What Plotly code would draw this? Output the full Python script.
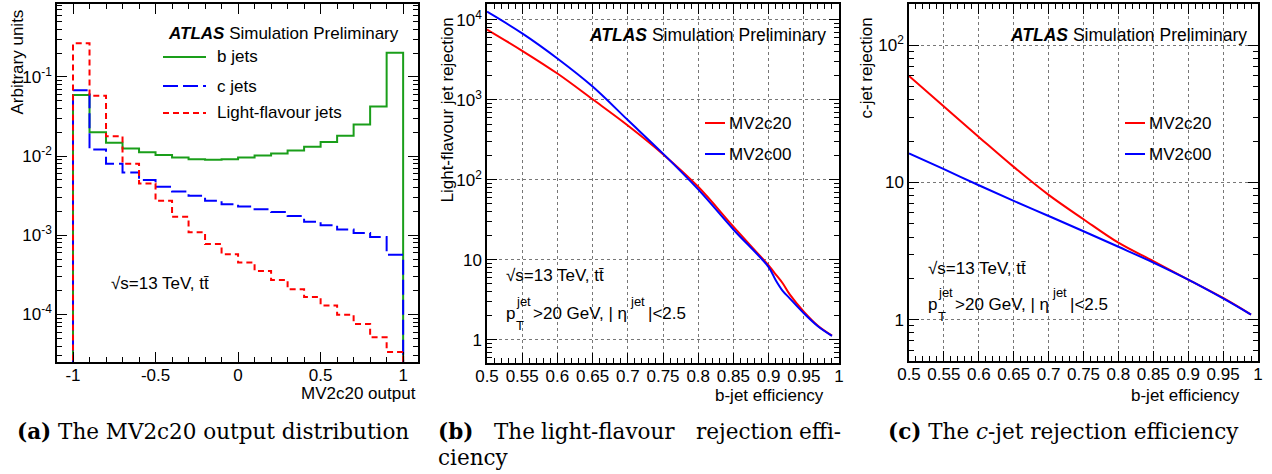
import math
import plotly.graph_objects as go

W, H = 1272, 474

# ---------------- data ----------------
# (a) MV2c20 output distribution, 20 bins of width 0.1 on [-1, 1]
bin_edges = [round(-1.0 + 0.1 * i, 1) for i in range(21)]
b_jets = [0.059, 0.020, 0.0147, 0.0125, 0.0112, 0.0103, 0.0096, 0.0091, 0.0090, 0.0091,
          0.0096, 0.0102, 0.0108, 0.0118, 0.0131, 0.0150, 0.0181, 0.0251, 0.0422, 0.201]
c_jets = [0.068, 0.0121, 0.0080, 0.0062, 0.0050, 0.0041, 0.00358, 0.00316, 0.00272, 0.00246,
          0.00230, 0.00213, 0.00197, 0.00175, 0.00148, 0.00134, 0.00118, 0.00107, 0.00095, 0.000567]
light_jets = [0.266, 0.0579, 0.0178, 0.0080, 0.00451, 0.00272, 0.00171, 0.00109, 0.000775, 0.000578,
              0.000452, 0.000354, 0.000272, 0.000208, 0.000166, 0.00013, 0.0000991, 0.000076,
              0.0000514, 0.0000337]

# (b) light-flavour jet rejection vs b-jet efficiency
eff_b = [0.50, 0.55, 0.60, 0.65, 0.70, 0.75, 0.80, 0.85, 0.90, 0.91, 0.92, 0.93, 0.95, 0.97, 0.99]
light_rej_mv2c20 = [7600, 4120, 2140, 1020, 480, 210, 82, 26, 8.5, 6.6, 5.1, 3.7, 2.25, 1.5, 1.13]
light_rej_mv2c00 = [12700, 6800, 3300, 1470, 560, 213, 76, 24, 8.1, 5.6, 4.1, 3.3, 2.15, 1.48, 1.12]

# (c) c-jet rejection vs b-jet efficiency
eff_c = [0.50, 0.55, 0.60, 0.65, 0.70, 0.75, 0.80, 0.85, 0.90, 0.95, 0.99]
c_rej_mv2c20 = [59.7, 35.8, 21.5, 13.0, 8.13, 5.40, 3.64, 2.67, 1.96, 1.44, 1.09]
c_rej_mv2c00 = [16.3, 12.5, 9.55, 7.35, 5.70, 4.41, 3.40, 2.61, 1.96, 1.43, 1.09]

eff_ticks = [round(0.5 + 0.05 * i, 2) for i in range(11)]
eff_ticktext = ["0.5", "0.55", "0.6", "0.65", "0.7", "0.75", "0.8", "0.85", "0.9", "0.95", "1"]
mv_ticks = [-1, -0.5, 0, 0.5, 1]
mv_ticktext = ["-1", "-0.5", "0", "0.5", "1"]

# ---------------- styling ----------------
GREEN = "#1a9e1a"
BLUE = "#0000ff"
RED = "#ff0000"
SANS = "Liberation Sans, Arial, Helvetica, sans-serif"
SERIF = "DejaVu Serif, serif"
FS = 17
HIST_FLOOR = 1e-9  # histogram outline drops to zero (below the log range)
BLUE_DASH = "15px,5px"
RED_DASH = "6px,4px"


def px(x):
    return x / W


def py(y):
    return 1 - y / H


def step_outline(edges, vals):
    xs = [edges[0]] + list(edges[:-1]) + [edges[-1], edges[-1]]
    ys = [HIST_FLOOR] + list(vals) + [vals[-1], HIST_FLOOR]
    return xs, ys


def log_minor(lo_exp, hi_exp):
    out = []
    for e in range(lo_exp, hi_exp + 1):
        for k in range(2, 10):
            out.append(k * 10.0 ** e)
    return out


fig = go.Figure()

# panel (a): step outlines of the three flavours
for vals, color, dash, name in [(b_jets, GREEN, "solid", "b jets"),
                                (c_jets, BLUE, BLUE_DASH, "c jets"),
                                (light_jets, RED, RED_DASH, "Light-flavour jets")]:
    xs, ys = step_outline(bin_edges, vals)
    fig.add_trace(go.Scatter(x=xs, y=ys, mode="lines", line=dict(color=color, width=2, dash=dash, shape="hv"),
                             name=name, xaxis="x", yaxis="y", showlegend=False))

curve = dict(width=2, shape="spline", smoothing=1.0)
# panel (b)
fig.add_trace(go.Scatter(x=eff_b, y=light_rej_mv2c20, mode="lines", line=dict(color=RED, **curve),
                         xaxis="x2", yaxis="y2", showlegend=False, name="MV2c20"))
fig.add_trace(go.Scatter(x=eff_b, y=light_rej_mv2c00, mode="lines", line=dict(color=BLUE, **curve),
                         xaxis="x2", yaxis="y2", showlegend=False, name="MV2c00"))

# panel (c)
fig.add_trace(go.Scatter(x=eff_c, y=c_rej_mv2c20, mode="lines", line=dict(color=RED, **curve),
                         xaxis="x3", yaxis="y3", showlegend=False, name="MV2c20"))
fig.add_trace(go.Scatter(x=eff_c, y=c_rej_mv2c00, mode="lines", line=dict(color=BLUE, **curve),
                         xaxis="x3", yaxis="y3", showlegend=False, name="MV2c00"))

tickfont = dict(family=SANS, size=FS, color="black")
common = dict(showline=True, linecolor="black", linewidth=1.5, mirror="ticks", ticks="inside",
              tickcolor="black", tickwidth=1, ticklen=10, tickfont=tickfont, zeroline=False,
              tickmode="array", automargin=False)
minor_style = dict(ticks="inside", ticklen=5, tickcolor="black", tickwidth=1)
grid = dict(showgrid=True, gridcolor="#777777", griddash="dot", gridwidth=1)

layout = dict(
    template="none",
    width=W, height=H, margin=dict(l=0, r=0, t=0, b=0, autoexpand=False),
    paper_bgcolor="white", plot_bgcolor="white", showlegend=False,
    xaxis=dict(domain=[px(57), px(418)], range=[-1.097, 1.09], tickvals=mv_ticks, ticktext=mv_ticktext,
               minor=dict(tickvals=[round(-1.0 + 0.1 * i, 1) for i in range(21)], **minor_style),
               showgrid=False, anchor="y", ticklabelstandoff=-3, **common),
    yaxis=dict(domain=[py(362), py(4)], type="log", range=[-4.6, -0.08],
               tickvals=[1e-4, 1e-3, 1e-2, 1e-1],
               ticktext=["10<sup>-4</sup>", "10<sup>-3</sup>", "10<sup>-2</sup>", "10<sup>-1</sup>"],
               minor=dict(tickvals=log_minor(-5, -1), **minor_style),
               showgrid=False, anchor="x", **common),
    xaxis2=dict(domain=[px(487), px(839)], range=[0.5, 1.0], tickvals=eff_ticks, ticktext=eff_ticktext,
                minor=dict(tickvals=[round(0.5 + 0.01 * i, 2) for i in range(51)], **minor_style),
                anchor="y2", ticklabelstandoff=-3, **grid, **common),
    yaxis2=dict(domain=[py(363), py(4)], type="log", range=[-0.29, 4.2],
                tickvals=[1, 10, 100, 1000, 10000],
                ticktext=["1", "10", "10<sup>2</sup>", "10<sup>3</sup>", "10<sup>4</sup>"],
                minor=dict(tickvals=log_minor(-1, 4), **minor_style),
                anchor="x2", **grid, **common),
    xaxis3=dict(domain=[px(909), px(1258)], range=[0.5, 1.0], tickvals=eff_ticks, ticktext=eff_ticktext,
                minor=dict(tickvals=[round(0.5 + 0.01 * i, 2) for i in range(51)], **minor_style),
                anchor="y3", ticklabelstandoff=-3, **grid, **common),
    yaxis3=dict(domain=[py(361), py(4)], type="log", range=[math.log10(0.5), math.log10(200)],
                tickvals=[1, 10, 100],
                ticktext=["1", "10", "10<sup>2</sup>"],
                minor=dict(tickvals=log_minor(-1, 2), **minor_style),
                anchor="x3", **grid, **common),
)
fig.update_layout(**layout)

ann = []
shapes = []


def text(x, y, s, size=FS, xanchor="left", yanchor="middle", angle=0, family=SANS):
    ann.append(dict(x=px(x), y=py(y), xref="paper", yref="paper", text=s, showarrow=False,
                    xanchor=xanchor, yanchor=yanchor, textangle=angle, borderpad=0,
                    font=dict(family=family, size=size, color="black")))


def legend_line(x0, x1, y, color, dash="solid"):
    shapes.append(dict(type="line", xref="paper", yref="paper", x0=px(x0), x1=px(x1), y0=py(y), y1=py(y),
                       line=dict(color=color, width=2, dash=dash)))


ATLAS = "<b><i>ATLAS</i></b> Simulation Preliminary"
SQRT = "√s=13 TeV, tt̄"

# axis titles
text(17, 9, "Arbitrary units", xanchor="center", yanchor="top", angle=-90)
text(417, 393, "MV2c20 output", xanchor="right")
text(447, 17, "Light-flavour jet rejection", xanchor="center", yanchor="top", angle=-90)
text(825, 395, "b-jet efficiency", xanchor="right")
text(866, 17, "c-jet rejection", xanchor="center", yanchor="top", angle=-90)
text(1241, 395, "b-jet efficiency", xanchor="right")

# panel (a) labels and legend
text(167, 33, ATLAS, size=17)
for yy, col, dash, lab in [(57, GREEN, "solid", "b jets"), (86, BLUE, BLUE_DASH, "c jets"),
                           (113, RED, RED_DASH, "Light-flavour jets")]:
    legend_line(163, 206, yy, col, dash)
    text(216, yy, lab)
text(110, 283, SQRT)

# panels (b) and (c): labels and legends
for x0, atlas_x, leg_x, sq_y, pt_y in [(505, 588, 705, 275, 313), (927, 1009, 1125, 268, 304)]:
    text(atlas_x, 35, ATLAS, size=17.5)
    legend_line(leg_x, leg_x + 20, 123, RED)
    text(leg_x + 23, 123, "MV2c20")
    legend_line(leg_x, leg_x + 20, 154, BLUE)
    text(leg_x + 23, 154, "MV2c00")
    text(x0, sq_y, SQRT)
    text(x0, pt_y, "p")
    text(x0 + 10, pt_y - 12, "jet", size=13)
    text(x0 + 10, pt_y + 12, "T", size=13)
    text(x0 + 27, pt_y, "&gt;20 GeV, | η")
    text(x0 + 124, pt_y - 12, "jet", size=13)
    text(x0 + 142, pt_y, "|&lt;2.5")

# captions
CAP = 21.5
text(16, 431, "<b>(a)</b> The MV2c20 output distribution", size=CAP, family=SERIF)
for xx, word in [(437, "<b>(b)</b>"), (493, "The"), (540, "light-flavour"), (695, "rejection"), (798, "effi-")]:
    text(xx, 431, word, size=CAP, family=SERIF)
text(437, 457, "ciency", size=CAP, family=SERIF)
text(887, 431, "<b>(c)</b> The <i>c</i>-jet rejection efficiency", size=CAP, family=SERIF)

fig.update_layout(annotations=ann, shapes=shapes)
fig.write_html("out.html")
